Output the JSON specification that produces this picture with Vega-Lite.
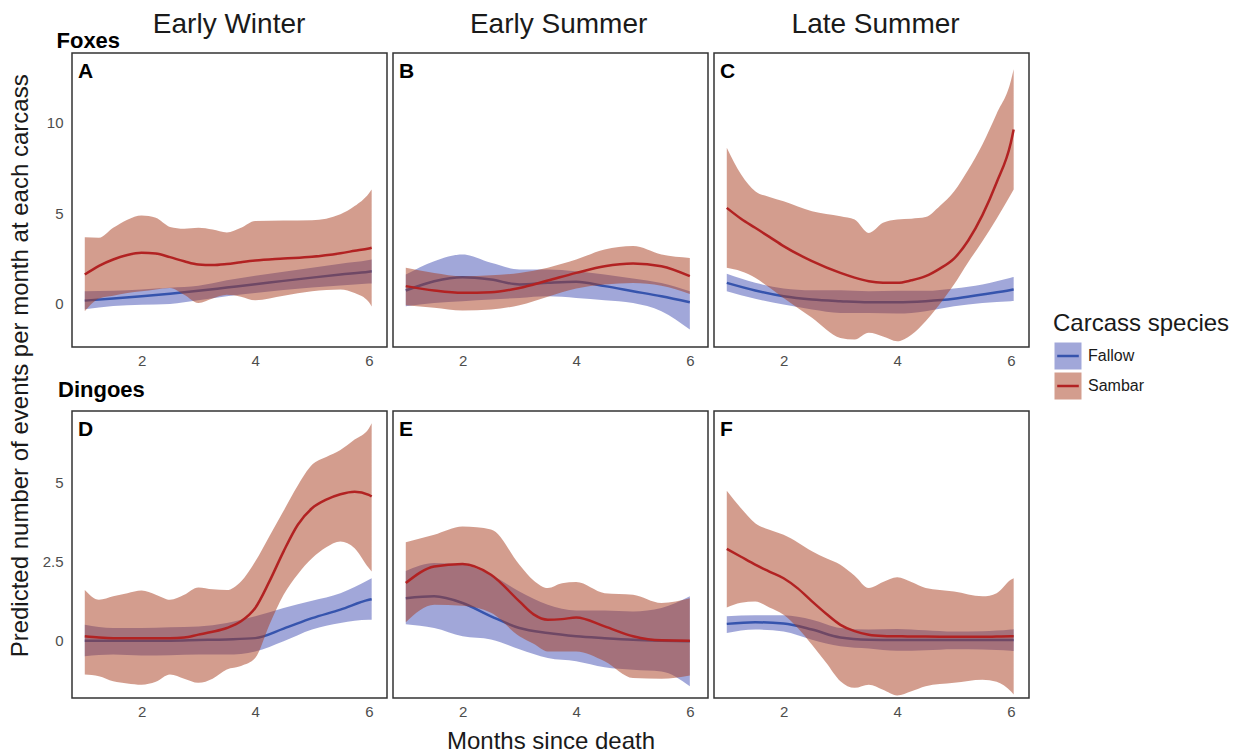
{
  "$schema": "https://vega.github.io/schema/vega-lite/v6.json",
  "background": "white",
  "padding": {"left": 9, "top": 9, "right": 0, "bottom": 0},
  "config": {
    "font": "Liberation Sans",
    "view": {"stroke": "#333333", "strokeWidth": 1.5},
    "axis": {"grid": false, "domain": false, "ticks": false, "tickSize": 0, "labelFontSize": 15, "labelColor": "#4d4d4d", "titleFontWeight": "normal", "titleFontSize": 24, "titleColor": "#1a1a1a", "labelExpr": "'' + datum.value"},
    "axisX": {"labelPadding": 6, "titlePadding": 10},
    "axisY": {"labelPadding": 9},
    "legend": {
      "orient": "none", "legendX": 981, "legendY": 259,
      "titleFontSize": 24, "titleFontWeight": "normal", "titleColor": "#1a1a1a", "titlePadding": 5,
      "labelFontSize": 16, "labelColor": "#1a1a1a", "labelOffset": 5,
      "symbolType": "M-0.8,0H0.8H-1V-1H1V1H-1V0Z", "symbolSize": 729,
      "symbolStrokeWidth": 2.5, "symbolDash": [21.6, 1000], "rowPadding": -5
    },
    "concat": {"spacing": 4}
  },
  "title": {"text": "Predicted number of events per month at each carcass", "orient": "left", "anchor": "middle", "fontSize": 24, "fontWeight": "normal", "color": "#1a1a1a", "offset": 8, "dx": 16},
  "data": {"name": "curves"},
  "datasets": {
    "curves": [
      {"panel": "A", "species": "Fallow", "x": 1, "fit": 0.18, "lo": -0.3, "hi": 0.7},
      {"panel": "A", "species": "Fallow", "x": 1.5, "fit": 0.3, "lo": -0.12, "hi": 0.72},
      {"panel": "A", "species": "Fallow", "x": 2, "fit": 0.42, "lo": -0.05, "hi": 0.8},
      {"panel": "A", "species": "Fallow", "x": 2.5, "fit": 0.56, "lo": 0, "hi": 0.89},
      {"panel": "A", "species": "Fallow", "x": 3, "fit": 0.72, "lo": 0.2, "hi": 1.0},
      {"panel": "A", "species": "Fallow", "x": 3.5, "fit": 0.9, "lo": 0.42, "hi": 1.3},
      {"panel": "A", "species": "Fallow", "x": 4, "fit": 1.08, "lo": 0.6, "hi": 1.55},
      {"panel": "A", "species": "Fallow", "x": 4.5, "fit": 1.27, "lo": 0.76, "hi": 1.78},
      {"panel": "A", "species": "Fallow", "x": 5, "fit": 1.45, "lo": 0.9, "hi": 2.0},
      {"panel": "A", "species": "Fallow", "x": 5.5, "fit": 1.62, "lo": 1.02, "hi": 2.22},
      {"panel": "A", "species": "Fallow", "x": 6, "fit": 1.78, "lo": 1.12, "hi": 2.42},
      {"panel": "A", "species": "Fallow", "x": 6.05, "fit": 1.8, "lo": 1.13, "hi": 2.45},
      {"panel": "A", "species": "Sambar", "x": 1, "fit": 1.62, "lo": -0.4, "hi": 3.68},
      {"panel": "A", "species": "Sambar", "x": 1.25, "fit": 2.1, "lo": 0.3, "hi": 3.65},
      {"panel": "A", "species": "Sambar", "x": 1.5, "fit": 2.45, "lo": 0.45, "hi": 4.2},
      {"panel": "A", "species": "Sambar", "x": 1.75, "fit": 2.7, "lo": 0.6, "hi": 4.65},
      {"panel": "A", "species": "Sambar", "x": 2, "fit": 2.82, "lo": 0.7, "hi": 4.88},
      {"panel": "A", "species": "Sambar", "x": 2.25, "fit": 2.78, "lo": 0.8, "hi": 4.75},
      {"panel": "A", "species": "Sambar", "x": 2.5, "fit": 2.58, "lo": 0.88, "hi": 4.25},
      {"panel": "A", "species": "Sambar", "x": 2.75, "fit": 2.35, "lo": 0.5, "hi": 4.15},
      {"panel": "A", "species": "Sambar", "x": 3, "fit": 2.17, "lo": 0.05, "hi": 4.2},
      {"panel": "A", "species": "Sambar", "x": 3.25, "fit": 2.14, "lo": 0.3, "hi": 4.1},
      {"panel": "A", "species": "Sambar", "x": 3.5, "fit": 2.2, "lo": 0.5, "hi": 3.94},
      {"panel": "A", "species": "Sambar", "x": 3.75, "fit": 2.3, "lo": 0.4, "hi": 4.2},
      {"panel": "A", "species": "Sambar", "x": 4, "fit": 2.39, "lo": 0.2, "hi": 4.57},
      {"panel": "A", "species": "Sambar", "x": 4.5, "fit": 2.5, "lo": 0.45, "hi": 4.6},
      {"panel": "A", "species": "Sambar", "x": 5, "fit": 2.6, "lo": 0.7, "hi": 4.62},
      {"panel": "A", "species": "Sambar", "x": 5.5, "fit": 2.8, "lo": 0.8, "hi": 4.95},
      {"panel": "A", "species": "Sambar", "x": 5.75, "fit": 2.93, "lo": 0.6, "hi": 5.4},
      {"panel": "A", "species": "Sambar", "x": 6, "fit": 3.06, "lo": 0.1, "hi": 6.1},
      {"panel": "A", "species": "Sambar", "x": 6.05, "fit": 3.1, "lo": -0.15, "hi": 6.32},

      {"panel": "B", "species": "Fallow", "x": 1, "fit": 0.74, "lo": -0.13, "hi": 1.62},
      {"panel": "B", "species": "Fallow", "x": 1.5, "fit": 1.25, "lo": 0.05, "hi": 2.36},
      {"panel": "B", "species": "Fallow", "x": 2, "fit": 1.47, "lo": 0.15, "hi": 2.73},
      {"panel": "B", "species": "Fallow", "x": 2.5, "fit": 1.34, "lo": 0.24, "hi": 2.27},
      {"panel": "B", "species": "Fallow", "x": 3, "fit": 1.07, "lo": 0.33, "hi": 1.9},
      {"panel": "B", "species": "Fallow", "x": 3.5, "fit": 1.16, "lo": 0.42, "hi": 1.9},
      {"panel": "B", "species": "Fallow", "x": 4, "fit": 1.22, "lo": 0.33, "hi": 1.8},
      {"panel": "B", "species": "Fallow", "x": 4.5, "fit": 0.98, "lo": 0.2, "hi": 1.62},
      {"panel": "B", "species": "Fallow", "x": 5, "fit": 0.7, "lo": 0.05, "hi": 1.4},
      {"panel": "B", "species": "Fallow", "x": 5.5, "fit": 0.42, "lo": -0.4, "hi": 1.15},
      {"panel": "B", "species": "Fallow", "x": 6, "fit": 0.09, "lo": -1.42, "hi": 0.7},
      {"panel": "B", "species": "Sambar", "x": 1, "fit": 0.98, "lo": -0.07, "hi": 1.99},
      {"panel": "B", "species": "Sambar", "x": 1.5, "fit": 0.74, "lo": -0.22, "hi": 1.71},
      {"panel": "B", "species": "Sambar", "x": 2, "fit": 0.61, "lo": -0.37, "hi": 1.53},
      {"panel": "B", "species": "Sambar", "x": 2.5, "fit": 0.64, "lo": -0.31, "hi": 1.58},
      {"panel": "B", "species": "Sambar", "x": 3, "fit": 0.88, "lo": -0.07, "hi": 1.71},
      {"panel": "B", "species": "Sambar", "x": 3.5, "fit": 1.29, "lo": 0.4, "hi": 2.0},
      {"panel": "B", "species": "Sambar", "x": 4, "fit": 1.71, "lo": 0.85, "hi": 2.45},
      {"panel": "B", "species": "Sambar", "x": 4.5, "fit": 2.08, "lo": 1.07, "hi": 3.0},
      {"panel": "B", "species": "Sambar", "x": 5, "fit": 2.23, "lo": 1.15, "hi": 3.19},
      {"panel": "B", "species": "Sambar", "x": 5.5, "fit": 2.08, "lo": 1.0, "hi": 2.73},
      {"panel": "B", "species": "Sambar", "x": 6, "fit": 1.53, "lo": 0.55, "hi": 2.54},

      {"panel": "C", "species": "Fallow", "x": 1, "fit": 1.16, "lo": 0.7, "hi": 1.66},
      {"panel": "C", "species": "Fallow", "x": 1.5, "fit": 0.74, "lo": 0.28, "hi": 1.16},
      {"panel": "C", "species": "Fallow", "x": 2, "fit": 0.42, "lo": -0.04, "hi": 0.85},
      {"panel": "C", "species": "Fallow", "x": 2.5, "fit": 0.24, "lo": -0.31, "hi": 0.75},
      {"panel": "C", "species": "Fallow", "x": 3, "fit": 0.15, "lo": -0.5, "hi": 0.75},
      {"panel": "C", "species": "Fallow", "x": 3.5, "fit": 0.09, "lo": -0.5, "hi": 0.7},
      {"panel": "C", "species": "Fallow", "x": 4, "fit": 0.09, "lo": -0.53, "hi": 0.72},
      {"panel": "C", "species": "Fallow", "x": 4.5, "fit": 0.15, "lo": -0.4, "hi": 0.72},
      {"panel": "C", "species": "Fallow", "x": 5, "fit": 0.28, "lo": -0.13, "hi": 0.85},
      {"panel": "C", "species": "Fallow", "x": 5.5, "fit": 0.52, "lo": 0.05, "hi": 1.07},
      {"panel": "C", "species": "Fallow", "x": 6, "fit": 0.77, "lo": 0.15, "hi": 1.44},
      {"panel": "C", "species": "Fallow", "x": 6.05, "fit": 0.8, "lo": 0.16, "hi": 1.48},
      {"panel": "C", "species": "Sambar", "x": 1, "fit": 5.3, "lo": 1.99, "hi": 8.62},
      {"panel": "C", "species": "Sambar", "x": 1.25, "fit": 4.7, "lo": 1.8, "hi": 7.15},
      {"panel": "C", "species": "Sambar", "x": 1.5, "fit": 4.2, "lo": 1.44, "hi": 6.22},
      {"panel": "C", "species": "Sambar", "x": 1.75, "fit": 3.7, "lo": 0.9, "hi": 5.9},
      {"panel": "C", "species": "Sambar", "x": 2, "fit": 3.19, "lo": 0.33, "hi": 5.67},
      {"panel": "C", "species": "Sambar", "x": 2.5, "fit": 2.36, "lo": -0.77, "hi": 5.12},
      {"panel": "C", "species": "Sambar", "x": 3, "fit": 1.71, "lo": -1.88, "hi": 4.84},
      {"panel": "C", "species": "Sambar", "x": 3.25, "fit": 1.45, "lo": -1.97, "hi": 4.66},
      {"panel": "C", "species": "Sambar", "x": 3.5, "fit": 1.25, "lo": -1.6, "hi": 3.92},
      {"panel": "C", "species": "Sambar", "x": 3.75, "fit": 1.17, "lo": -1.8, "hi": 4.48},
      {"panel": "C", "species": "Sambar", "x": 4, "fit": 1.16, "lo": -2.06, "hi": 4.66},
      {"panel": "C", "species": "Sambar", "x": 4.25, "fit": 1.3, "lo": -1.7, "hi": 4.7},
      {"panel": "C", "species": "Sambar", "x": 4.5, "fit": 1.53, "lo": -0.96, "hi": 4.79},
      {"panel": "C", "species": "Sambar", "x": 4.75, "fit": 1.95, "lo": 0.0, "hi": 5.4},
      {"panel": "C", "species": "Sambar", "x": 5, "fit": 2.5, "lo": 1.07, "hi": 6.2},
      {"panel": "C", "species": "Sambar", "x": 5.25, "fit": 3.5, "lo": 2.3, "hi": 7.4},
      {"panel": "C", "species": "Sambar", "x": 5.5, "fit": 4.9, "lo": 3.46, "hi": 8.8},
      {"panel": "C", "species": "Sambar", "x": 5.75, "fit": 6.7, "lo": 4.7, "hi": 10.5},
      {"panel": "C", "species": "Sambar", "x": 6, "fit": 8.9, "lo": 6.04, "hi": 12.3},
      {"panel": "C", "species": "Sambar", "x": 6.05, "fit": 9.63, "lo": 6.32, "hi": 12.95},

      {"panel": "D", "species": "Fallow", "x": 1, "fit": 0, "lo": -0.49, "hi": 0.5},
      {"panel": "D", "species": "Fallow", "x": 1.5, "fit": 0, "lo": -0.44, "hi": 0.4},
      {"panel": "D", "species": "Fallow", "x": 2, "fit": 0, "lo": -0.47, "hi": 0.4},
      {"panel": "D", "species": "Fallow", "x": 2.5, "fit": 0, "lo": -0.46, "hi": 0.42},
      {"panel": "D", "species": "Fallow", "x": 3, "fit": 0.02, "lo": -0.44, "hi": 0.45},
      {"panel": "D", "species": "Fallow", "x": 3.5, "fit": 0.04, "lo": -0.44, "hi": 0.56},
      {"panel": "D", "species": "Fallow", "x": 4, "fit": 0.08, "lo": -0.34, "hi": 0.77},
      {"panel": "D", "species": "Fallow", "x": 4.5, "fit": 0.38, "lo": -0.02, "hi": 1.03},
      {"panel": "D", "species": "Fallow", "x": 5, "fit": 0.71, "lo": 0.35, "hi": 1.26},
      {"panel": "D", "species": "Fallow", "x": 5.5, "fit": 0.98, "lo": 0.56, "hi": 1.5},
      {"panel": "D", "species": "Fallow", "x": 6, "fit": 1.29, "lo": 0.66, "hi": 1.92},
      {"panel": "D", "species": "Fallow", "x": 6.05, "fit": 1.31, "lo": 0.66, "hi": 1.97},
      {"panel": "D", "species": "Sambar", "x": 1, "fit": 0.14, "lo": -1.07, "hi": 1.6},
      {"panel": "D", "species": "Sambar", "x": 1.25, "fit": 0.1, "lo": -1.12, "hi": 1.29},
      {"panel": "D", "species": "Sambar", "x": 1.5, "fit": 0.08, "lo": -1.28, "hi": 1.4},
      {"panel": "D", "species": "Sambar", "x": 1.75, "fit": 0.08, "lo": -1.35, "hi": 1.5},
      {"panel": "D", "species": "Sambar", "x": 2, "fit": 0.08, "lo": -1.39, "hi": 1.58},
      {"panel": "D", "species": "Sambar", "x": 2.25, "fit": 0.08, "lo": -1.3, "hi": 1.45},
      {"panel": "D", "species": "Sambar", "x": 2.5, "fit": 0.08, "lo": -1.07, "hi": 1.29},
      {"panel": "D", "species": "Sambar", "x": 2.75, "fit": 0.1, "lo": -1.2, "hi": 1.45},
      {"panel": "D", "species": "Sambar", "x": 3, "fit": 0.19, "lo": -1.33, "hi": 1.68},
      {"panel": "D", "species": "Sambar", "x": 3.25, "fit": 0.28, "lo": -1.2, "hi": 1.62},
      {"panel": "D", "species": "Sambar", "x": 3.5, "fit": 0.4, "lo": -0.91, "hi": 1.6},
      {"panel": "D", "species": "Sambar", "x": 3.75, "fit": 0.61, "lo": -0.8, "hi": 1.87},
      {"panel": "D", "species": "Sambar", "x": 4, "fit": 1.03, "lo": -0.55, "hi": 2.5},
      {"panel": "D", "species": "Sambar", "x": 4.25, "fit": 1.87, "lo": 0.5, "hi": 3.3},
      {"panel": "D", "species": "Sambar", "x": 4.5, "fit": 2.82, "lo": 1.45, "hi": 4.1},
      {"panel": "D", "species": "Sambar", "x": 4.75, "fit": 3.66, "lo": 2.1, "hi": 4.9},
      {"panel": "D", "species": "Sambar", "x": 5, "fit": 4.18, "lo": 2.6, "hi": 5.55},
      {"panel": "D", "species": "Sambar", "x": 5.25, "fit": 4.45, "lo": 2.95, "hi": 5.8},
      {"panel": "D", "species": "Sambar", "x": 5.5, "fit": 4.62, "lo": 3.13, "hi": 6.02},
      {"panel": "D", "species": "Sambar", "x": 5.75, "fit": 4.7, "lo": 2.92, "hi": 6.35},
      {"panel": "D", "species": "Sambar", "x": 6, "fit": 4.6, "lo": 2.29, "hi": 6.7},
      {"panel": "D", "species": "Sambar", "x": 6.05, "fit": 4.55, "lo": 2.18, "hi": 6.86},

      {"panel": "E", "species": "Fallow", "x": 1, "fit": 1.34, "lo": 0.52, "hi": 2.2},
      {"panel": "E", "species": "Fallow", "x": 1.5, "fit": 1.4, "lo": 0.4, "hi": 2.45},
      {"panel": "E", "species": "Fallow", "x": 2, "fit": 1.19, "lo": 0.14, "hi": 2.4},
      {"panel": "E", "species": "Fallow", "x": 2.5, "fit": 0.77, "lo": 0.04, "hi": 2.08},
      {"panel": "E", "species": "Fallow", "x": 3, "fit": 0.4, "lo": -0.27, "hi": 1.55},
      {"panel": "E", "species": "Fallow", "x": 3.5, "fit": 0.24, "lo": -0.55, "hi": 1.13},
      {"panel": "E", "species": "Fallow", "x": 4, "fit": 0.14, "lo": -0.65, "hi": 0.95},
      {"panel": "E", "species": "Fallow", "x": 4.5, "fit": 0.08, "lo": -0.84, "hi": 0.95},
      {"panel": "E", "species": "Fallow", "x": 5, "fit": 0.03, "lo": -0.92, "hi": 0.92},
      {"panel": "E", "species": "Fallow", "x": 5.5, "fit": 0, "lo": -0.97, "hi": 1.03},
      {"panel": "E", "species": "Fallow", "x": 6, "fit": -0.02, "lo": -1.44, "hi": 1.4},
      {"panel": "E", "species": "Sambar", "x": 1, "fit": 1.82, "lo": 0.58, "hi": 3.11},
      {"panel": "E", "species": "Sambar", "x": 1.5, "fit": 2.34, "lo": 1.13, "hi": 3.34},
      {"panel": "E", "species": "Sambar", "x": 2, "fit": 2.42, "lo": 1.1, "hi": 3.6},
      {"panel": "E", "species": "Sambar", "x": 2.5, "fit": 2.08, "lo": 0.88, "hi": 3.51},
      {"panel": "E", "species": "Sambar", "x": 3, "fit": 1.24, "lo": 0.14, "hi": 2.4},
      {"panel": "E", "species": "Sambar", "x": 3.25, "fit": 0.83, "lo": -0.1, "hi": 1.9},
      {"panel": "E", "species": "Sambar", "x": 3.5, "fit": 0.66, "lo": -0.34, "hi": 1.66},
      {"panel": "E", "species": "Sambar", "x": 3.75, "fit": 0.68, "lo": -0.34, "hi": 1.81},
      {"panel": "E", "species": "Sambar", "x": 4, "fit": 0.73, "lo": -0.34, "hi": 1.85},
      {"panel": "E", "species": "Sambar", "x": 4.5, "fit": 0.45, "lo": -0.65, "hi": 1.5},
      {"panel": "E", "species": "Sambar", "x": 5, "fit": 0.14, "lo": -1.18, "hi": 1.45},
      {"panel": "E", "species": "Sambar", "x": 5.5, "fit": 0.01, "lo": -1.2, "hi": 1.19},
      {"panel": "E", "species": "Sambar", "x": 6, "fit": 0, "lo": -1.1, "hi": 1.34},

      {"panel": "F", "species": "Fallow", "x": 1, "fit": 0.53, "lo": 0.24, "hi": 0.77},
      {"panel": "F", "species": "Fallow", "x": 1.5, "fit": 0.58, "lo": 0.35, "hi": 0.8},
      {"panel": "F", "species": "Fallow", "x": 2, "fit": 0.54, "lo": 0.29, "hi": 0.8},
      {"panel": "F", "species": "Fallow", "x": 2.5, "fit": 0.35, "lo": 0.03, "hi": 0.66},
      {"panel": "F", "species": "Fallow", "x": 3, "fit": 0.1, "lo": -0.18, "hi": 0.4},
      {"panel": "F", "species": "Fallow", "x": 3.5, "fit": 0.03, "lo": -0.25, "hi": 0.35},
      {"panel": "F", "species": "Fallow", "x": 4, "fit": 0.02, "lo": -0.32, "hi": 0.37},
      {"panel": "F", "species": "Fallow", "x": 4.5, "fit": 0.02, "lo": -0.3, "hi": 0.33},
      {"panel": "F", "species": "Fallow", "x": 5, "fit": 0.02, "lo": -0.27, "hi": 0.29},
      {"panel": "F", "species": "Fallow", "x": 5.5, "fit": 0.02, "lo": -0.28, "hi": 0.3},
      {"panel": "F", "species": "Fallow", "x": 6, "fit": 0.02, "lo": -0.32, "hi": 0.35},
      {"panel": "F", "species": "Fallow", "x": 6.05, "fit": 0.02, "lo": -0.33, "hi": 0.36},
      {"panel": "F", "species": "Sambar", "x": 1, "fit": 2.9, "lo": 1.05, "hi": 4.73},
      {"panel": "F", "species": "Sambar", "x": 1.25, "fit": 2.65, "lo": 1.2, "hi": 4.18},
      {"panel": "F", "species": "Sambar", "x": 1.5, "fit": 2.4, "lo": 1.24, "hi": 3.71},
      {"panel": "F", "species": "Sambar", "x": 1.75, "fit": 2.18, "lo": 1.05, "hi": 3.5},
      {"panel": "F", "species": "Sambar", "x": 2, "fit": 1.97, "lo": 0.82, "hi": 3.34},
      {"panel": "F", "species": "Sambar", "x": 2.25, "fit": 1.65, "lo": 0.4, "hi": 3.1},
      {"panel": "F", "species": "Sambar", "x": 2.5, "fit": 1.24, "lo": -0.13, "hi": 2.82},
      {"panel": "F", "species": "Sambar", "x": 2.75, "fit": 0.85, "lo": -0.7, "hi": 2.6},
      {"panel": "F", "species": "Sambar", "x": 3, "fit": 0.5, "lo": -1.28, "hi": 2.4},
      {"panel": "F", "species": "Sambar", "x": 3.25, "fit": 0.3, "lo": -1.49, "hi": 2.05},
      {"panel": "F", "species": "Sambar", "x": 3.5, "fit": 0.19, "lo": -1.39, "hi": 1.66},
      {"panel": "F", "species": "Sambar", "x": 3.75, "fit": 0.15, "lo": -1.55, "hi": 1.85},
      {"panel": "F", "species": "Sambar", "x": 4, "fit": 0.14, "lo": -1.73, "hi": 2.0},
      {"panel": "F", "species": "Sambar", "x": 4.25, "fit": 0.13, "lo": -1.6, "hi": 1.85},
      {"panel": "F", "species": "Sambar", "x": 4.5, "fit": 0.13, "lo": -1.44, "hi": 1.66},
      {"panel": "F", "species": "Sambar", "x": 5, "fit": 0.12, "lo": -1.33, "hi": 1.55},
      {"panel": "F", "species": "Sambar", "x": 5.5, "fit": 0.12, "lo": -1.23, "hi": 1.4},
      {"panel": "F", "species": "Sambar", "x": 5.75, "fit": 0.13, "lo": -1.3, "hi": 1.5},
      {"panel": "F", "species": "Sambar", "x": 6, "fit": 0.14, "lo": -1.6, "hi": 1.92},
      {"panel": "F", "species": "Sambar", "x": 6.05, "fit": 0.14, "lo": -1.7, "hi": 1.97}
    ]
  },
  "vconcat": [
    {
      "hconcat": [
        {
          "width": 315, "height": 294,
          "transform": [{"filter": "datum.panel === 'A'"}],
          "layer": [
            {"transform": [{"filter": "datum.species === 'Fallow'"}],
             "mark": {"type": "area", "fillOpacity": 0.5, "interpolate": "monotone"},
             "encoding": {
               "x": {"field": "x", "type": "quantitative", "scale": {"domain": [0.775, 6.32], "nice": false, "zero": false}, "axis": {"values": [2, 4, 6], "title": null}},
               "y": {"field": "lo", "type": "quantitative", "scale": {"domain": [-2.38, 13.85], "nice": false, "zero": false}, "axis": {"values": [0, 5, 10], "title": null}},
               "y2": {"field": "hi"},
               "fill": {"field": "species", "type": "nominal", "scale": {"domain": ["Fallow", "Sambar"], "range": ["#4450b4", "#a83c1e"]},
                        "legend": {"title": "Carcass species", "encode": {"symbols": {"update": {"fillOpacity": {"value": 0.5}, "strokeOpacity": {"value": 1}, "strokeJoin": {"value": "round"}, "stroke": {"signal": "datum.value === 'Fallow' ? '#3654ad' : '#b22222'"}}}}}}
             }},
            {"transform": [{"filter": "datum.species === 'Fallow'"}],
             "mark": {"type": "line", "strokeWidth": 2.5, "interpolate": "monotone"},
             "encoding": {
               "x": {"field": "x", "type": "quantitative"},
               "y": {"field": "fit", "type": "quantitative"},
               "stroke": {"field": "species", "type": "nominal", "scale": {"domain": ["Fallow", "Sambar"], "range": ["#3654ad", "#b22222"]}, "legend": null}
             }},
            {"transform": [{"filter": "datum.species === 'Sambar'"}],
             "mark": {"type": "area", "fillOpacity": 0.5, "interpolate": "monotone"},
             "encoding": {
               "x": {"field": "x", "type": "quantitative"},
               "y": {"field": "lo", "type": "quantitative"},
               "y2": {"field": "hi"},
               "fill": {"field": "species", "type": "nominal"}
             }},
            {"transform": [{"filter": "datum.species === 'Sambar'"}],
             "mark": {"type": "line", "strokeWidth": 2.5, "interpolate": "monotone"},
             "encoding": {
               "x": {"field": "x", "type": "quantitative"},
               "y": {"field": "fit", "type": "quantitative"},
               "stroke": {"field": "species", "type": "nominal", "legend": null}
             }},
            {"data": {"values": [{"label": "A"}]},
             "mark": {"type": "text", "align": "left", "baseline": "top", "fontSize": 21, "fontWeight": "bold", "color": "black", "dx": 6, "dy": 8},
             "encoding": {"x": {"datum": 0.775}, "y": {"datum": 13.85}, "text": {"field": "label"}}},
            {"data": {"values": [{"label": "Foxes"}]},
             "mark": {"type": "text", "align": "left", "baseline": "alphabetic", "fontSize": 22, "fontWeight": "bold", "color": "black", "dx": -15.5, "dy": -5.5},
             "encoding": {"x": {"datum": 0.775}, "y": {"datum": 13.85}, "text": {"field": "label"}}},
            {"data": {"values": [{"label": "Early Winter"}]},
             "mark": {"type": "text", "align": "center", "baseline": "alphabetic", "fontSize": 28, "color": "#1a1a1a", "dy": -20.3},
             "encoding": {"x": {"datum": 3.54}, "y": {"datum": 13.85}, "text": {"field": "label"}}}
          ]
        },
        {
          "width": 315, "height": 294,
          "transform": [{"filter": "datum.panel === 'B'"}],
          "layer": [
            {"transform": [{"filter": "datum.species === 'Fallow'"}],
             "mark": {"type": "area", "fillOpacity": 0.5, "interpolate": "monotone"},
             "encoding": {
               "x": {"field": "x", "type": "quantitative", "scale": {"domain": [0.775, 6.32], "nice": false, "zero": false}, "axis": {"values": [2, 4, 6], "title": null}},
               "y": {"field": "lo", "type": "quantitative", "scale": {"domain": [-2.38, 13.85], "nice": false, "zero": false}, "axis": null},
               "y2": {"field": "hi"},
               "fill": {"field": "species", "type": "nominal"}
             }},
            {"transform": [{"filter": "datum.species === 'Fallow'"}],
             "mark": {"type": "line", "strokeWidth": 2.5, "interpolate": "monotone"},
             "encoding": {
               "x": {"field": "x", "type": "quantitative"},
               "y": {"field": "fit", "type": "quantitative"},
               "stroke": {"field": "species", "type": "nominal", "legend": null}
             }},
            {"transform": [{"filter": "datum.species === 'Sambar'"}],
             "mark": {"type": "area", "fillOpacity": 0.5, "interpolate": "monotone"},
             "encoding": {
               "x": {"field": "x", "type": "quantitative"},
               "y": {"field": "lo", "type": "quantitative"},
               "y2": {"field": "hi"},
               "fill": {"field": "species", "type": "nominal"}
             }},
            {"transform": [{"filter": "datum.species === 'Sambar'"}],
             "mark": {"type": "line", "strokeWidth": 2.5, "interpolate": "monotone"},
             "encoding": {
               "x": {"field": "x", "type": "quantitative"},
               "y": {"field": "fit", "type": "quantitative"},
               "stroke": {"field": "species", "type": "nominal", "legend": null}
             }},
            {"data": {"values": [{"label": "B"}]},
             "mark": {"type": "text", "align": "left", "baseline": "top", "fontSize": 21, "fontWeight": "bold", "color": "black", "dx": 6, "dy": 8},
             "encoding": {"x": {"datum": 0.775}, "y": {"datum": 13.85}, "text": {"field": "label"}}},
            {"data": {"values": [{"label": "Early Summer"}]},
             "mark": {"type": "text", "align": "center", "baseline": "alphabetic", "fontSize": 28, "color": "#1a1a1a", "dy": -20.3},
             "encoding": {"x": {"datum": 3.69}, "y": {"datum": 13.85}, "text": {"field": "label"}}}
          ]
        },
        {
          "width": 315, "height": 294,
          "transform": [{"filter": "datum.panel === 'C'"}],
          "layer": [
            {"transform": [{"filter": "datum.species === 'Fallow'"}],
             "mark": {"type": "area", "fillOpacity": 0.5, "interpolate": "monotone"},
             "encoding": {
               "x": {"field": "x", "type": "quantitative", "scale": {"domain": [0.775, 6.32], "nice": false, "zero": false}, "axis": {"values": [2, 4, 6], "title": null}},
               "y": {"field": "lo", "type": "quantitative", "scale": {"domain": [-2.38, 13.85], "nice": false, "zero": false}, "axis": null},
               "y2": {"field": "hi"},
               "fill": {"field": "species", "type": "nominal"}
             }},
            {"transform": [{"filter": "datum.species === 'Fallow'"}],
             "mark": {"type": "line", "strokeWidth": 2.5, "interpolate": "monotone"},
             "encoding": {
               "x": {"field": "x", "type": "quantitative"},
               "y": {"field": "fit", "type": "quantitative"},
               "stroke": {"field": "species", "type": "nominal", "legend": null}
             }},
            {"transform": [{"filter": "datum.species === 'Sambar'"}],
             "mark": {"type": "area", "fillOpacity": 0.5, "interpolate": "monotone"},
             "encoding": {
               "x": {"field": "x", "type": "quantitative"},
               "y": {"field": "lo", "type": "quantitative"},
               "y2": {"field": "hi"},
               "fill": {"field": "species", "type": "nominal"}
             }},
            {"transform": [{"filter": "datum.species === 'Sambar'"}],
             "mark": {"type": "line", "strokeWidth": 2.5, "interpolate": "monotone"},
             "encoding": {
               "x": {"field": "x", "type": "quantitative"},
               "y": {"field": "fit", "type": "quantitative"},
               "stroke": {"field": "species", "type": "nominal", "legend": null}
             }},
            {"data": {"values": [{"label": "C"}]},
             "mark": {"type": "text", "align": "left", "baseline": "top", "fontSize": 21, "fontWeight": "bold", "color": "black", "dx": 6, "dy": 8},
             "encoding": {"x": {"datum": 0.775}, "y": {"datum": 13.85}, "text": {"field": "label"}}},
            {"data": {"values": [{"label": "Late Summer"}]},
             "mark": {"type": "text", "align": "center", "baseline": "alphabetic", "fontSize": 28, "color": "#1a1a1a", "dy": -20.3},
             "encoding": {"x": {"datum": 3.62}, "y": {"datum": 13.85}, "text": {"field": "label"}}}
          ]
        }
      ]
    },
    {
      "hconcat": [
        {
          "width": 315, "height": 287,
          "transform": [{"filter": "datum.panel === 'D'"}],
          "layer": [
            {"transform": [{"filter": "datum.species === 'Fallow'"}],
             "mark": {"type": "area", "fillOpacity": 0.5, "interpolate": "monotone"},
             "encoding": {
               "x": {"field": "x", "type": "quantitative", "scale": {"domain": [0.775, 6.32], "nice": false, "zero": false}, "axis": {"values": [2, 4, 6], "title": null}},
               "y": {"field": "lo", "type": "quantitative", "scale": {"domain": [-1.81, 7.25], "nice": false, "zero": false}, "axis": {"values": [0, 2.5, 5], "title": null}},
               "y2": {"field": "hi"},
               "fill": {"field": "species", "type": "nominal"}
             }},
            {"transform": [{"filter": "datum.species === 'Fallow'"}],
             "mark": {"type": "line", "strokeWidth": 2.5, "interpolate": "monotone"},
             "encoding": {
               "x": {"field": "x", "type": "quantitative"},
               "y": {"field": "fit", "type": "quantitative"},
               "stroke": {"field": "species", "type": "nominal", "legend": null}
             }},
            {"transform": [{"filter": "datum.species === 'Sambar'"}],
             "mark": {"type": "area", "fillOpacity": 0.5, "interpolate": "monotone"},
             "encoding": {
               "x": {"field": "x", "type": "quantitative"},
               "y": {"field": "lo", "type": "quantitative"},
               "y2": {"field": "hi"},
               "fill": {"field": "species", "type": "nominal"}
             }},
            {"transform": [{"filter": "datum.species === 'Sambar'"}],
             "mark": {"type": "line", "strokeWidth": 2.5, "interpolate": "monotone"},
             "encoding": {
               "x": {"field": "x", "type": "quantitative"},
               "y": {"field": "fit", "type": "quantitative"},
               "stroke": {"field": "species", "type": "nominal", "legend": null}
             }},
            {"data": {"values": [{"label": "D"}]},
             "mark": {"type": "text", "align": "left", "baseline": "top", "fontSize": 21, "fontWeight": "bold", "color": "black", "dx": 6, "dy": 8},
             "encoding": {"x": {"datum": 0.775}, "y": {"datum": 7.25}, "text": {"field": "label"}}},
            {"data": {"values": [{"label": "Dingoes"}]},
             "mark": {"type": "text", "align": "left", "baseline": "alphabetic", "fontSize": 22, "fontWeight": "bold", "color": "black", "dx": -14, "dy": -13.6},
             "encoding": {"x": {"datum": 0.775}, "y": {"datum": 7.25}, "text": {"field": "label"}}}
          ]
        },
        {
          "width": 315, "height": 287,
          "transform": [{"filter": "datum.panel === 'E'"}],
          "layer": [
            {"transform": [{"filter": "datum.species === 'Fallow'"}],
             "mark": {"type": "area", "fillOpacity": 0.5, "interpolate": "monotone"},
             "encoding": {
               "x": {"field": "x", "type": "quantitative", "scale": {"domain": [0.775, 6.32], "nice": false, "zero": false}, "axis": {"values": [2, 4, 6], "title": "Months since death"}},
               "y": {"field": "lo", "type": "quantitative", "scale": {"domain": [-1.81, 7.25], "nice": false, "zero": false}, "axis": null},
               "y2": {"field": "hi"},
               "fill": {"field": "species", "type": "nominal"}
             }},
            {"transform": [{"filter": "datum.species === 'Fallow'"}],
             "mark": {"type": "line", "strokeWidth": 2.5, "interpolate": "monotone"},
             "encoding": {
               "x": {"field": "x", "type": "quantitative"},
               "y": {"field": "fit", "type": "quantitative"},
               "stroke": {"field": "species", "type": "nominal", "legend": null}
             }},
            {"transform": [{"filter": "datum.species === 'Sambar'"}],
             "mark": {"type": "area", "fillOpacity": 0.5, "interpolate": "monotone"},
             "encoding": {
               "x": {"field": "x", "type": "quantitative"},
               "y": {"field": "lo", "type": "quantitative"},
               "y2": {"field": "hi"},
               "fill": {"field": "species", "type": "nominal"}
             }},
            {"transform": [{"filter": "datum.species === 'Sambar'"}],
             "mark": {"type": "line", "strokeWidth": 2.5, "interpolate": "monotone"},
             "encoding": {
               "x": {"field": "x", "type": "quantitative"},
               "y": {"field": "fit", "type": "quantitative"},
               "stroke": {"field": "species", "type": "nominal", "legend": null}
             }},
            {"data": {"values": [{"label": "E"}]},
             "mark": {"type": "text", "align": "left", "baseline": "top", "fontSize": 21, "fontWeight": "bold", "color": "black", "dx": 6, "dy": 8},
             "encoding": {"x": {"datum": 0.775}, "y": {"datum": 7.25}, "text": {"field": "label"}}}
          ]
        },
        {
          "width": 315, "height": 287,
          "transform": [{"filter": "datum.panel === 'F'"}],
          "layer": [
            {"transform": [{"filter": "datum.species === 'Fallow'"}],
             "mark": {"type": "area", "fillOpacity": 0.5, "interpolate": "monotone"},
             "encoding": {
               "x": {"field": "x", "type": "quantitative", "scale": {"domain": [0.775, 6.32], "nice": false, "zero": false}, "axis": {"values": [2, 4, 6], "title": null}},
               "y": {"field": "lo", "type": "quantitative", "scale": {"domain": [-1.81, 7.25], "nice": false, "zero": false}, "axis": null},
               "y2": {"field": "hi"},
               "fill": {"field": "species", "type": "nominal"}
             }},
            {"transform": [{"filter": "datum.species === 'Fallow'"}],
             "mark": {"type": "line", "strokeWidth": 2.5, "interpolate": "monotone"},
             "encoding": {
               "x": {"field": "x", "type": "quantitative"},
               "y": {"field": "fit", "type": "quantitative"},
               "stroke": {"field": "species", "type": "nominal", "legend": null}
             }},
            {"transform": [{"filter": "datum.species === 'Sambar'"}],
             "mark": {"type": "area", "fillOpacity": 0.5, "interpolate": "monotone"},
             "encoding": {
               "x": {"field": "x", "type": "quantitative"},
               "y": {"field": "lo", "type": "quantitative"},
               "y2": {"field": "hi"},
               "fill": {"field": "species", "type": "nominal"}
             }},
            {"transform": [{"filter": "datum.species === 'Sambar'"}],
             "mark": {"type": "line", "strokeWidth": 2.5, "interpolate": "monotone"},
             "encoding": {
               "x": {"field": "x", "type": "quantitative"},
               "y": {"field": "fit", "type": "quantitative"},
               "stroke": {"field": "species", "type": "nominal", "legend": null}
             }},
            {"data": {"values": [{"label": "F"}]},
             "mark": {"type": "text", "align": "left", "baseline": "top", "fontSize": 21, "fontWeight": "bold", "color": "black", "dx": 6, "dy": 8},
             "encoding": {"x": {"datum": 0.775}, "y": {"datum": 7.25}, "text": {"field": "label"}}}
          ]
        }
      ]
    }
  ],
  "spacing": 9
}
